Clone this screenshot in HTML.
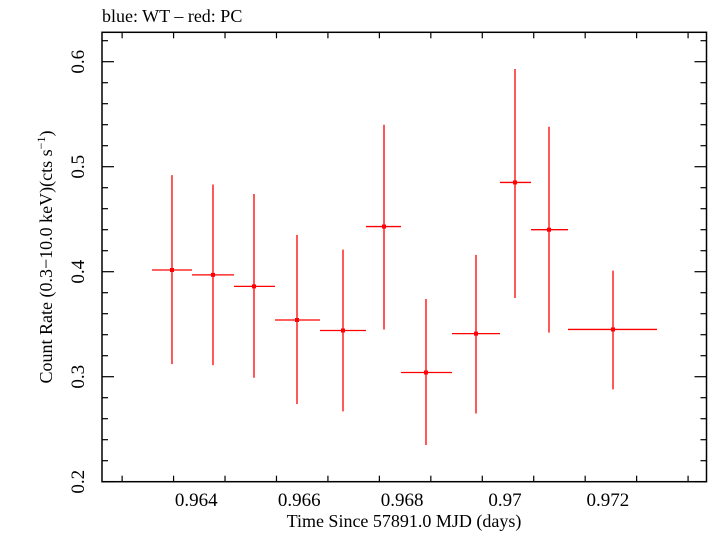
<!DOCTYPE html>
<html><head><meta charset="utf-8"><style>
body{margin:0;background:#fff;}
svg text{font-family:"Liberation Serif",serif;fill:#000;}
</style></head><body>
<svg id="chart" width="709" height="532" xmlns="http://www.w3.org/2000/svg">
<text x="102" y="22" font-size="18">blue: WT – red: PC</text>
<rect x="102" y="32.3" width="604.5" height="449.4" fill="none" stroke="#000" stroke-width="1.5"/>
<g id="ticks"></g>
<g id="marks"></g>
<text x="404" y="527" font-size="18" text-anchor="middle">Time Since 57891.0 MJD (days)</text>
<text transform="translate(52,257) rotate(-90)" font-size="18" text-anchor="middle">Count Rate (0.3−10.0 keV)(cts s<tspan font-size="12" dy="-7">−1</tspan><tspan dy="7">)</tspan></text>
</svg>
<script>
const times=[0.963469,0.964266,0.965063,0.965899,0.966793,0.967590,0.968406,0.969378,0.970136,0.970797,0.972041];
const timeLo=[0.963081,0.963858,0.964674,0.965471,0.966346,0.967240,0.967920,0.968912,0.969844,0.970447,0.971166];
const timeHi=[0.963858,0.964674,0.965471,0.966346,0.967240,0.967920,0.968912,0.969844,0.970447,0.971166,0.972896];
const rates=[0.4016,0.397,0.386,0.354,0.344,0.443,0.304,0.341,0.485,0.440,0.345];
const rateLo=[0.312,0.311,0.299,0.274,0.267,0.345,0.235,0.265,0.375,0.342,0.288];
const rateHi=[0.492,0.483,0.474,0.435,0.421,0.540,0.374,0.416,0.593,0.538,0.401];
const xTicks=[0.964,0.966,0.968,0.970,0.972];
const xTickLabels=["0.964","0.966","0.968","0.97","0.972"];
const yTicks=[0.2,0.3,0.4,0.5,0.6];
const yTickLabels=["0.2","0.3","0.4","0.5","0.6"];
const X=t=>199.3+(t-0.964)*51450;
const Y=v=>481.7-(v-0.2)*1050;
const NS="http://www.w3.org/2000/svg";
function mk(tag,attrs,parent){const e=document.createElementNS(NS,tag);for(const k in attrs)e.setAttribute(k,attrs[k]);parent.appendChild(e);return e;}
const tg=document.getElementById('ticks');
for(let t=0.9625;t<0.9738;t+=0.001){
  const major=xTicks.some(m=>Math.abs(m-t)<1e-6);const x=X(t);const L=major?12:6;
  const a=mk('line',{x1:x,x2:x,y1:481.7,y2:481.7-L,stroke:'#000','stroke-width':1.2},tg);
  
  
  const b=mk('line',{x1:x,x2:x,y1:32.3,y2:32.3+L,stroke:'#000','stroke-width':1.2},tg);
  
  
}
xTicks.forEach((t,i)=>{const e=mk('text',{x:X(t)-3,y:506,'font-size':19,'text-anchor':'middle'},tg);e.textContent=xTickLabels[i];
  
  });
for(let v=0.2;v<0.63;v+=0.02){
  const major=yTicks.some(m=>Math.abs(m-v)<1e-6);const y=Y(v);const L=major?12:6;
  const a=mk('line',{x1:102,x2:102+L,y1:y,y2:y,stroke:'#000','stroke-width':1.2},tg);
  
  
  const b=mk('line',{x1:706.5,x2:706.5-L,y1:y,y2:y,stroke:'#000','stroke-width':1.2},tg);
  
  
}
yTicks.forEach((v,i)=>{const e=mk('text',{transform:`translate(84,${Y(v)}) rotate(-90)`,'font-size':19,'text-anchor':'middle'},tg);e.textContent=yTickLabels[i];
  
  });
const mg=document.getElementById('marks');
times.forEach((t,i)=>{
  const g=mk('g',{},mg);
  
  
  mk('line',{x1:X(t),x2:X(t),y1:Y(rateLo[i]),y2:Y(rateHi[i]),stroke:'#f00','stroke-width':1.3},g);
  mk('line',{x1:X(timeLo[i]),x2:X(timeHi[i]),y1:Y(rates[i]),y2:Y(rates[i]),stroke:'#f00','stroke-width':1.3},g);
  mk('rect',{x:X(t)-2,y:Y(rates[i])-2,width:4,height:4,fill:'#f00'},g);
});
</script>
</body></html>
